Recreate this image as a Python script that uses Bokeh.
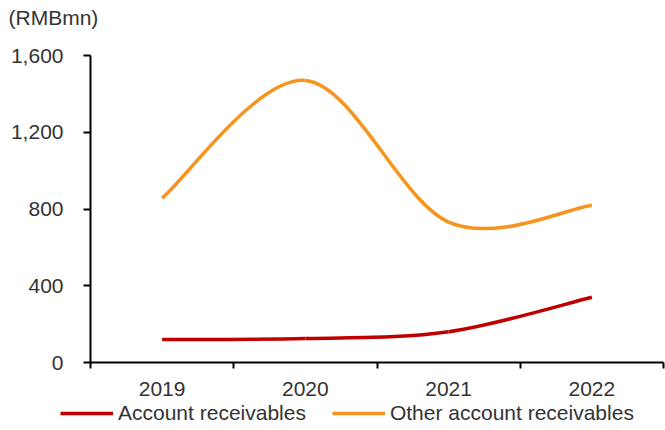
from bokeh.plotting import figure
from bokeh.models import (ColumnDataSource, FixedTicker, NumeralTickFormatter, Range1d,
                          Legend, LegendItem, Label)
from bokeh.embed import file_html
from bokeh.resources import INLINE

years = ["2019", "2020", "2021", "2022"]
account_receivables = [120, 125, 160, 340]
other_account_receivables = [857, 1470, 732, 820]
y_ticks = [0, 400, 800, 1200, 1600]
series_names = ["Account receivables", "Other account receivables"]
series_colors = ["#C00000", "#F7941D"]
unit_label = "(RMBmn)"

FONT = "Liberation Sans"
TEXT = "#333333"
FS = "21px"

xs = [i + 0.5 for i in range(len(years))]


def bezier_source(x, y):
    n = len(x)
    d = dict(x0=[], y0=[], x1=[], y1=[], cx0=[], cy0=[], cx1=[], cy1=[])
    for i in range(n - 1):
        p0 = i - 1 if i > 0 else i
        p3 = i + 2 if i + 2 < n else i + 1
        d["x0"].append(x[i]); d["y0"].append(y[i])
        d["x1"].append(x[i + 1]); d["y1"].append(y[i + 1])
        d["cx0"].append(x[i] + (x[i + 1] - x[p0]) / 6)
        d["cy0"].append(y[i] + (y[i + 1] - y[p0]) / 6)
        d["cx1"].append(x[i + 1] - (x[p3] - x[i]) / 6)
        d["cy1"].append(y[i + 1] - (y[p3] - y[i]) / 6)
    return ColumnDataSource(d)


def strip(height):
    s = figure(width=665, height=height, output_backend="svg", toolbar_location=None,
               x_axis_location=None, y_axis_location=None,
               x_range=Range1d(0, 665), y_range=Range1d(0, height),
               min_border_left=0, min_border_right=0, min_border_top=0, min_border_bottom=0)
    s.outline_line_color = None
    s.xgrid.visible = False
    s.ygrid.visible = False
    return s


# unit label strip on top
top = strip(32)
top.add_layout(Label(x=8, y=15, text=unit_label, text_baseline="middle", text_align="left",
                     text_font=FONT, text_font_size=FS, text_color=TEXT))

p = figure(width=665, height=366, output_backend="svg", toolbar_location=None,
           x_range=Range1d(0, len(years)), y_range=Range1d(0, 1600),
           min_border_left=90, min_border_right=2, min_border_top=23, min_border_bottom=0)
p.outline_line_color = None
p.xgrid.visible = False
p.ygrid.visible = False
p.background_fill_color = "white"
p.border_fill_color = "white"

for vals, color in zip([account_receivables, other_account_receivables], series_colors):
    p.bezier(x0="x0", y0="y0", x1="x1", y1="y1", cx0="cx0", cy0="cy0", cx1="cx1", cy1="cy1",
             source=bezier_source(xs, vals), line_color=color, line_width=3.5)

# axes
p.xaxis.ticker = FixedTicker(ticks=xs, minor_ticks=list(range(len(years) + 1)))
p.xaxis.major_label_overrides = {x: y for x, y in zip(xs, years)}
p.xaxis.major_tick_out = 0
p.xaxis.major_tick_in = 0
p.xaxis.minor_tick_out = 6
p.xaxis.minor_tick_in = 0
p.xaxis.minor_tick_line_color = "black"
p.xaxis.minor_tick_line_width = 2
p.xaxis.major_label_standoff = 13

p.yaxis.ticker = FixedTicker(ticks=y_ticks, minor_ticks=[])
p.yaxis.formatter = NumeralTickFormatter(format="0,0")
p.yaxis.major_tick_out = 7
p.yaxis.major_tick_in = 0
p.yaxis.major_label_standoff = 20

for ax in (p.xaxis, p.yaxis):
    ax.axis_line_color = "black"
    ax.axis_line_width = 2
    ax.major_tick_line_color = "black"
    ax.major_tick_line_width = 2
    ax.major_label_text_font = FONT
    ax.major_label_text_font_size = FS
    ax.major_label_text_color = TEXT

# legend strip (separate root, so its frame spans the full width)
lg = strip(32)
items = []
for name, vals, color in zip(series_names, [account_receivables, other_account_receivables],
                             series_colors):
    r = lg.line(x=xs, y=vals, line_color=color, line_width=3.5, visible=False)
    items.append(LegendItem(label=name, renderers=[r]))
legend = Legend(items=items, orientation="horizontal", location=(60, 5),
                glyph_width=53, glyph_height=20, label_height=20, label_standoff=5,
                spacing=26, padding=0, margin=0,
                border_line_color=None, background_fill_alpha=0,
                label_text_font=FONT, label_text_font_size=FS, label_text_color=TEXT)
lg.add_layout(legend, "center")

open("out.html", "w").write(file_html([top, p, lg], INLINE))
